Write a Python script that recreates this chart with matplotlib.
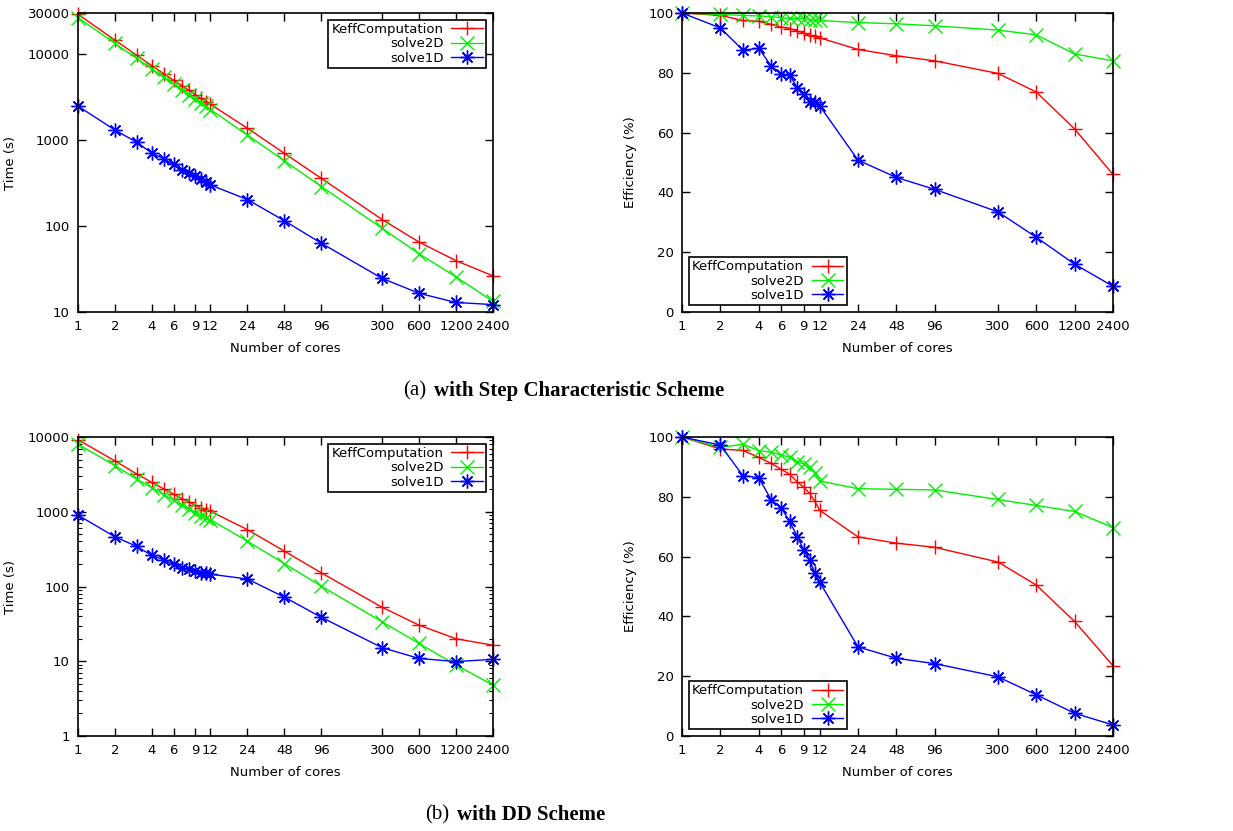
import matplotlib
matplotlib.use("Agg")
import matplotlib.pyplot as plt
from matplotlib.ticker import FixedLocator, NullFormatter, LogLocator, NullLocator


cores = [1, 2, 3, 4, 5, 6, 7, 8, 9, 10, 11, 12, 24, 48, 96, 300, 600, 1200, 2400]
xticks = [1, 2, 4, 6, 9, 12, 24, 48, 96, 300, 600, 1200, 2400]
series_names = ["KeffComputation", "solve2D", "solve1D"]

# (a) step characteristic scheme - times in seconds
time_a_keff = [29000, 14500, 9700, 7300, 5900, 4950, 4300, 3800, 3380, 3050, 2800, 2600,
               1370, 700, 358, 119, 65, 39.5, 26.3]
time_a_2d = [26500, 13300, 8900, 6700, 5350, 4500, 3850, 3370, 3000, 2710, 2470, 2260,
             1140, 573, 288, 94, 47.5, 25.6, 13.3]
time_a_1d = [2480, 1305, 944, 703, 603, 520, 447, 413, 377, 353, 321, 300,
             203, 115, 63, 24.6, 16.5, 12.9, 12.2]

# (a) efficiency in %
eff_a_keff = [100, 99.2, 97.5, 97.2, 96.2, 95.3, 94.8, 94.0, 93.3, 92.5, 92.2, 91.7,
              87.8, 85.7, 84.0, 79.8, 73.6, 61.2, 46.0]
eff_a_2d = [100, 99.5, 99.2, 99.0, 98.8, 98.4, 98.2, 98.2, 98.1, 97.8, 97.5, 97.5,
            96.8, 96.4, 95.7, 94.3, 92.7, 86.3, 84.0]
eff_a_1d = [100, 95.0, 87.6, 88.2, 82.3, 79.5, 79.3, 75.0, 73.0, 70.3, 70.2, 69.0,
            50.8, 45.0, 41.0, 33.5, 25.0, 16.0, 8.6]

# (b) DD scheme - times in seconds
time_b_keff = [9200, 4790, 3210, 2470, 2020, 1720, 1500, 1350, 1230, 1130, 1065, 1015,
               575, 297, 152, 52.7, 30.4, 20.0, 16.4]
time_b_2d = [8000, 4145, 2732, 2096, 1686, 1418, 1226, 1089, 977, 890, 826, 782,
             403, 202, 101, 33.7, 17.3, 8.9, 4.8]
time_b_1d = [900, 462, 344, 260, 228, 197, 179, 169, 160, 153, 150, 146,
             126, 72, 38.7, 15.2, 10.9, 9.9, 10.6]

# (b) efficiency in %
eff_b_keff = [100, 96.0, 95.5, 93.2, 91.2, 89.2, 87.5, 85.0, 83.2, 81.2, 78.5, 75.5,
              66.6, 64.5, 63.1, 58.2, 50.5, 38.3, 23.5]
eff_b_2d = [100, 96.5, 97.6, 95.4, 94.9, 94.0, 93.2, 91.8, 91.0, 89.9, 88.0, 85.3,
            82.7, 82.5, 82.3, 79.1, 77.1, 75.1, 69.7]
eff_b_1d = [100, 97.3, 87.1, 86.4, 79.0, 76.3, 71.8, 66.7, 62.3, 59.0, 54.5, 51.5,
            29.8, 26.0, 24.2, 19.8, 13.8, 7.6, 3.7]

colors = ["#ff0000", "#00f000", "#0000ff"]
markers = ["+", "x", (8, 2, 0)]

plt.rcParams["font.family"] = "DejaVu Sans"
plt.rcParams["font.size"] = 9.5

W, H = 1233, 831
fig = plt.figure(figsize=(W / 100, H / 100), dpi=100)


def px_axes(left, top, right, bottom):
    return fig.add_axes([left / W, 1 - bottom / H, (right - left) / W, (bottom - top) / H])


def draw_panel(ax, ys, log_y, ylim, yticks, ylabel, legend_loc, minor=False):
    for y, name, c, m in zip(ys, series_names, colors, markers):
        ax.plot(cores, y, color=c, marker=m, markersize=10, markeredgewidth=1.0,
                linewidth=1.0, label=name, clip_on=False)
    ax.set_xscale("log")
    ax.set_xlim(1, 2400)
    ax.xaxis.set_major_locator(FixedLocator(xticks))
    ax.xaxis.set_minor_locator(NullLocator())
    ax.set_xticklabels([str(t) for t in xticks])
    if log_y:
        ax.set_yscale("log")
    ax.set_ylim(*ylim)
    ax.yaxis.set_major_locator(FixedLocator(yticks))
    ax.set_yticklabels([str(t) for t in yticks])
    if minor:
        ax.yaxis.set_minor_locator(LogLocator(base=10, subs=range(2, 10), numticks=100))
        ax.yaxis.set_minor_formatter(NullFormatter())
    else:
        ax.yaxis.set_minor_locator(NullLocator())
    ax.tick_params(which="both", direction="in", top=True, right=True)
    ax.tick_params(which="major", length=6, width=1.0, pad=6)
    ax.tick_params(which="minor", length=3, width=0.8)
    for s in ax.spines.values():
        s.set_linewidth(1.2)
    ax.set_xlabel("Number of cores", labelpad=6)
    ax.set_ylabel(ylabel, labelpad=8)
    leg = ax.legend(loc=legend_loc, markerfirst=False, fancybox=False, framealpha=1,
                    edgecolor="black", handlelength=2.4, borderpad=0.25,
                    labelspacing=0.1, borderaxespad=0.5, handletextpad=0.6)
    leg.get_frame().set_linewidth(1.2)


ax1 = px_axes(78, 13, 493, 312)
draw_panel(ax1, [time_a_keff, time_a_2d, time_a_1d], True, (10, 30000),
           [10, 100, 1000, 10000, 30000], "Time (s)", "upper right")

ax2 = px_axes(682, 13, 1113, 312)
draw_panel(ax2, [eff_a_keff, eff_a_2d, eff_a_1d], False, (0, 100),
           [0, 20, 40, 60, 80, 100], "Efficiency (%)", "lower left")

ax3 = px_axes(78, 437, 493, 736)
draw_panel(ax3, [time_b_keff, time_b_2d, time_b_1d], True, (1, 10000),
           [1, 10, 100, 1000, 10000], "Time (s)", "upper right", minor=True)

ax4 = px_axes(682, 437, 1113, 736)
draw_panel(ax4, [eff_b_keff, eff_b_2d, eff_b_1d], False, (0, 100),
           [0, 20, 40, 60, 80, 100], "Efficiency (%)", "lower left")

# captions
serif = "Liberation Serif"
fig.text(426 / W, 1 - 391 / H, "(a)", ha="right", va="center", fontsize=15, family=serif)
fig.text(434 / W, 1 - 391 / H, "with Step Characteristic Scheme", ha="left", va="center",
         fontsize=15, family=serif, fontweight="bold")
fig.text(449 / W, 1 - 815 / H, "(b)", ha="right", va="center", fontsize=15, family=serif)
fig.text(457 / W, 1 - 815 / H, "with DD Scheme", ha="left", va="center",
         fontsize=15, family=serif, fontweight="bold")

fig.savefig("out.png", dpi=100)
